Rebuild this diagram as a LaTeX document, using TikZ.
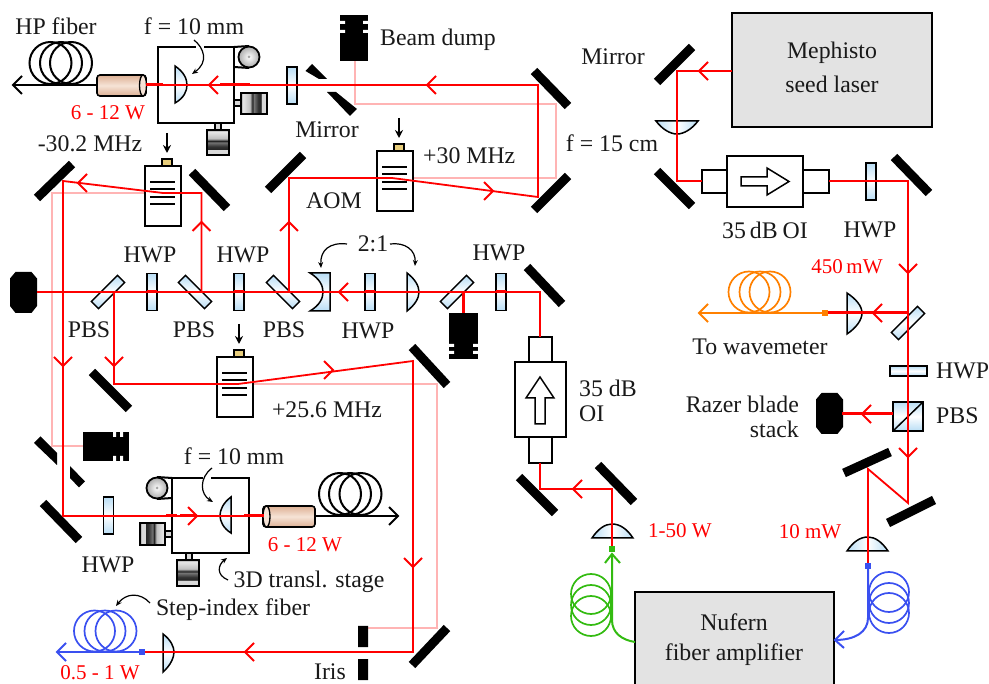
\documentclass[tikz,border=0pt]{standalone}
\usepackage{fontspec}
\setmainfont{Liberation Serif}
\usetikzlibrary{arrows.meta}
\definecolor{beamred}{HTML}{FF0000}
\definecolor{palered}{HTML}{FFB4B4}
\definecolor{glassb}{HTML}{B8DDF5}
\definecolor{boxgray}{HTML}{E3E3E3}
\definecolor{capgold}{HTML}{E8CE7C}
\definecolor{tanend}{HTML}{DDB094}
\definecolor{tanmid}{HTML}{F6E3D6}
\definecolor{greenf}{HTML}{33BB11}
\definecolor{bluef}{HTML}{3A50F0}
\definecolor{orangef}{HTML}{FF8000}
\pgfdeclarehorizontalshading{microshade}{100bp}{color(0bp)=(gray!70); color(25bp)=(gray!70); color(29bp)=(white!90!black); color(42bp)=(gray!50); color(47bp)=(black!85); color(50bp)=(black!55); color(58bp)=(black!80); color(63bp)=(black!85); color(65bp)=(white!85!black); color(72bp)=(white!85!black); color(75bp)=(gray); color(100bp)=(gray)}
\tikzset{
  lbl/.style={font=\fontsize{23.8}{27}\selectfont,inner sep=0pt,text=black!90},
  rlbl/.style={lbl,text=beamred,font=\fontsize{21}{25}\selectfont},
  beam/.style={draw=beamred,line width=1.8pt,line join=miter},
  beamthick/.style={draw=beamred,line width=3pt},
  paleb/.style={draw=palered,line width=1.7pt},
  mirrorsty/.style={draw=black,line width=9pt},
  outline/.style={draw=black,line width=1.6pt},
  plate/.style={draw=black,line width=1.5pt,minimum width=10pt,minimum height=37pt,inner sep=0pt,top color=glassb,bottom color=glassb,middle color=white},
  glassv/.style={draw=black,line width=1.5pt,top color=glassb,bottom color=glassb,middle color=white},
  glassh/.style={draw=black,line width=1.5pt,left color=glassb,right color=glassb,middle color=white},
  smallarc/.style={draw=black,line width=1.2pt,-{Stealth[length=6pt,width=5pt]}},
  tickarrow/.style={draw=black,line width=2pt,-{Stealth[length=8pt,width=8pt]}},
  barline/.style={draw=black,line width=2.4pt},
  fiberblk/.style={draw=black,line width=2pt},
  coilsty/.style={draw=#1,line width=1.7pt},
  fibercol/.style={draw=#1,line width=2pt},
  microbody/.style={draw=black,line width=1.8pt,shading=microshade,shading angle=#1},
  micropin/.style={draw=black,line width=1.2pt,fill=gray!30},
}
\newcommand{\mirrorbar}[4]{\draw[mirrorsty] (#1,#2) -- (#3,#4);}
\newcommand{\headL}[3][beam]{\draw[#1] (#2+9,#3-9) -- (#2,#3) -- (#2+9,#3+9);}
\newcommand{\headR}[3][beam]{\draw[#1] (#2-9,#3-9) -- (#2,#3) -- (#2-9,#3+9);}
\newcommand{\headU}[3][beam]{\draw[#1] (#2-9,#3+9) -- (#2,#3) -- (#2+9,#3+9);}
\newcommand{\headD}[3][beam]{\draw[#1] (#2-9,#3-9) -- (#2,#3) -- (#2+9,#3-9);}
\newcommand{\aomcell}[2]{%
  \draw[tickarrow] (#1+22,#2-33) -- (#1+22,#2-13);
  \draw[draw=black,line width=1.4pt,fill=capgold] (#1+17,#2-7) rectangle (#1+27,#2);
  \draw[outline,fill=white] (#1,#2) rectangle (#1+36,#2+60);
  \foreach \dy in {16,23,31,38}{\draw[barline] (#1+5,#2+\dy) -- (#1+30,#2+\dy);}
}
\newcommand{\knobcell}[2]{%
  \fill[white] (#1,#2) circle (11);
  \shade[inner color=white,outer color=gray!65] (#1,#2) circle (10.5);
  \draw[black,line width=1.8pt] (#1,#2) circle (10.5);
  \fill[gray!70] (#1,#2) circle (1.5);
}
\newcommand{\stackblk}[2]{%
  \fill[black] (#1+5.5,#2) -- (#1+21.5,#2) -- (#1+27,#2+6.5) -- (#1+27,#2+34) -- (#1+21.5,#2+41) -- (#1+5.5,#2+41) -- (#1,#2+34) -- (#1,#2+6.5) -- cycle;
}
\begin{document}
\begin{tikzpicture}[x=1pt,y=-1pt]
\useasboundingbox (0,0) rectangle (989,684);
% pale residual beams
\draw[paleb] (355,61) -- (355,104) -- (556,104) -- (556,178) -- (412,178);
\draw[paleb] (145,193) -- (52,193) -- (52,446) -- (83,446);
\draw[paleb] (253,384) -- (437,384) -- (437,628) -- (368,628);
% mirrors
\mirrorbar{37}{198}{72}{164}
\mirrorbar{192}{172}{227}{208}
\mirrorbar{268}{190}{303}{155}
\mirrorbar{534}{71}{568}{106}
\mirrorbar{534}{210}{568}{176}
\mirrorbar{92}{372}{129}{409}
\mirrorbar{412}{347}{447}{385}
\mirrorbar{527}{267}{562}{304}
\mirrorbar{43}{503}{79}{540}
\mirrorbar{519}{477}{555}{513}
\mirrorbar{598}{465}{634}{502}
\mirrorbar{412}{665}{447}{628}
\mirrorbar{657}{82}{692}{47}
\mirrorbar{657}{171}{692}{206}
\mirrorbar{894}{157}{929}{193}
\mirrorbar{844}{473}{890}{452}
\mirrorbar{888}{523}{934}{500}
% pick-off mirrors
\fill[black] (305.5,71) -- (312,64) -- (327,79) -- (319,79) -- cycle;
\fill[black] (327,92) -- (336,92) -- (357,109) -- (350,116) -- cycle;
\fill[black] (34,443) -- (40.5,436.5) -- (57,453) -- (57,465) -- cycle;
\fill[black] (70,466) -- (85,481.5) -- (79,487.5) -- (70,478) -- cycle;
% dumps
\fill[black] (340,15) rectangle (368,61);
\fill[white] (340,21) rectangle (345,24) (363,21) rectangle (368,24) (340,30) rectangle (345,33) (363,30) rectangle (368,33);
\fill[black] (449,313) rectangle (478,359);
\fill[white] (449,344) rectangle (454,347) (473,344) rectangle (478,347) (449,351) rectangle (454,354) (473,351) rectangle (478,354);
\fill[black] (83,432) rectangle (129,461);
\fill[white] (113,432) rectangle (116,437) (120,432) rectangle (123,437) (113,456) rectangle (116,461) (120,456) rectangle (123,461);
\stackblk{10}{272}
\stackblk{816}{393}
% stages
\draw[outline,fill=white] (158,47) rectangle (234,123);
\draw[white,line width=3pt] (196,47) -- (204,47);
\draw[black,line width=2pt] (234,47) -- (249,46) (234,67) -- (249,68);
\knobcell{249}{57}
\draw[micropin] (234,100) rectangle (241,106);
\draw[microbody=0] (241,93) rectangle (267,114);
\draw[micropin] (215,123) rectangle (221,130);
\draw[microbody=270] (207,130) rectangle (229,155);
\draw[outline,fill=white] (172,478) rectangle (249,553);
\draw[white,line width=3pt] (203,478) -- (211,478);
\draw[black,line width=2pt] (172,478) -- (157,477) (172,498) -- (157,499);
\knobcell{157}{488}
\draw[micropin] (165,531) rectangle (172,537);
\draw[microbody=180] (140,523) rectangle (165,545);
\draw[micropin] (186,553) rectangle (192,560);
\draw[microbody=270] (177,560) rectangle (199,586);
% AOMs
\aomcell{145}{166}
\aomcell{377}{151}
\aomcell{217}{357}
% glass: plates
\node[plate] (hwpA) at (292,85.5) {};
\node[plate] (hwpB) at (152,292) {};
\node[plate] (hwpC) at (239,292) {};
\node[plate] (hwpD) at (370,292) {};
\node[plate] (hwpE) at (501,292) {};
\node[plate] (hwpF) at (108.5,515.5) {};
\node[plate] (hwpG) at (871,181.5) {};
\node[plate,rotate=90] (hwpH) at (908.5,371) {};
\node[plate,rotate=-45] (pbsA) at (108,292) {};
\node[plate,rotate=45] (pbsB) at (195,292) {};
\node[plate,rotate=45] (pbsC) at (283,292) {};
\node[plate,rotate=-45] (pbsD) at (457,292) {};
\node[plate,rotate=-45] (pbsE) at (908,323) {};
% lenses
\draw[glassv] (175,66) .. controls (184,72) and (187,79) .. (187,85) .. controls (187,91) and (184,98) .. (175,103) -- cycle;
\draw[glassv] (231,497) .. controls (223,503) and (220,510) .. (220,515.5) .. controls (220,521) and (223,528) .. (231,533) -- cycle;
\draw[glassv] (407,273) .. controls (415,279) and (419,286) .. (419,292) .. controls (419,298) and (415,305) .. (407,311) -- cycle;
\draw[glassv] (163,634) .. controls (171,640) and (174,647) .. (174,652) .. controls (174,657) and (171,665) .. (163,672) -- cycle;
\draw[glassv] (847,293) .. controls (856,299) and (862,306) .. (862,313) .. controls (862,320) and (856,328) .. (847,334) -- cycle;
\draw[glassv] (310,273) -- (330,273) -- (330,311) -- (310,311) .. controls (320,305) and (323,298) .. (323,292) .. controls (323,286) and (320,279) .. (310,273) -- cycle;
\draw[glassh] (592,538) .. controls (598,529) and (605,524) .. (612,524) .. controls (620,524) and (627,529) .. (633,538) -- cycle;
\draw[glassh] (847,551) .. controls (853,542) and (860,537) .. (868,537) .. controls (875,537) and (882,542) .. (888,551) -- cycle;
\draw[glassh] (656,121) .. controls (662,129) and (670,134) .. (677,134) .. controls (684,134) and (692,129) .. (698,121) -- cycle;
% PBS cube
\draw[glassv] (893,402) rectangle (923,431);
\draw[black,line width=1.5pt] (893,431) -- (923,402);
% isolators
\draw[outline,fill=white] (529,337) rectangle (552,363);
\draw[outline,fill=white] (529,437) rectangle (552,463);
\draw[outline,fill=white] (515,362) rectangle (566,437);
\draw[draw=black,line width=1.5pt,fill=white] (540,377) -- (554,398) -- (545,398) -- (545,424) -- (535,424) -- (535,398) -- (526,398) -- cycle;
\draw[outline,fill=white] (702,170) rectangle (727,193);
\draw[outline,fill=white] (803,170) rectangle (829,193);
\draw[outline,fill=white] (727,156) rectangle (803,207);
\draw[draw=black,line width=1.5pt,fill=white] (789,181.5) -- (767,195) -- (767,186) -- (741,186) -- (741,177) -- (767,177) -- (767,168) -- cycle;
% lasers
\draw[outline,fill=boxgray] (732,13) rectangle (932,127);
\draw[outline,fill=boxgray] (635,592) rectangle (834,692);
% red beams
\draw[beam] (146,85) -- (538,85) -- (538,197) -- (392,178) -- (289,178) -- (289,292);
\draw[beamthick] (143,85) -- (163,85) (220,85) -- (250,85);
\draw[beam] (37,292) -- (540,292) -- (540,337);
\draw[beam] (201.5,292) -- (201.5,193) -- (163,193) -- (63,181) -- (63,516) -- (264,516);
\draw[beamthick] (166,516) -- (177,516) (180,516) -- (197,516) (244,516) -- (258,516);
\draw[beam] (114,292) -- (114,384) -- (238,384) -- (413,361) -- (413,652) -- (142,652);
\draw[beamthick] (463,292) -- (463,313);
\draw[beam] (540,463) -- (540,489) -- (612,489) -- (612,549);
\draw[beam] (732,71) -- (677,71) -- (677,181) -- (702,181);
\draw[beam] (829,181) -- (908,181) -- (908,503) -- (868,469) -- (868,566);
\draw[beamthick] (908,313) -- (825,313);
\draw[beamthick] (893,414) -- (842,414);
\draw[beamthick] (147,292) -- (157,292) (234,292) -- (244,292) (365,292) -- (375,292) (496,292) -- (506,292);
% beam arrowheads
\headL{209}{85}
\headL{427}{85}
\headL{78}{183}
\headU{201.5}{222}
\headU{289}{222}
\headR{493}{191}
\headL{339}{292}
\headD{63}{366}
\headD{114}{366}
\headR{333}{370}
\headD{413}{567}
\headL{245}{652}
\headR{197}{516}
\headL{573}{489}
\headL{699}{71}
\headD{908}{273}
\headL{873}{313}
\headL{862}{414}
\headD{908}{457}
% collimators and fibers
\foreach \cx/\cy in {50.5/63,61/63,71/63,340/494,350/494,360.5/494}{\draw[coilsty=black,line width=2pt] (\cx,\cy) circle (21);}
\draw[fiberblk] (13,85) -- (97,85);
\draw[fiberblk] (22,76) -- (13,85) -- (22,94);
\draw[fiberblk] (315,516) -- (398,516);
\draw[fiberblk] (389,507) -- (398,516) -- (389,525);
\draw[draw=black,line width=1.6pt,top color=tanend,bottom color=tanend,middle color=tanmid,rounded corners=3pt] (97,75) rectangle (146,96);
\draw[draw=black,line width=1.3pt,fill=tanmid] (143,85.5) ellipse (3.5 and 10.5);
\draw[draw=black,line width=1.6pt,top color=tanend,bottom color=tanend,middle color=tanmid,rounded corners=3pt] (263,506) rectangle (315,527);
\draw[draw=black,line width=1.3pt,fill=tanmid] (266.5,516.5) ellipse (3.5 and 10.5);
\draw[beamthick] (146,85) -- (150,85) (258,516) -- (264,516);
% blue step-index fiber
\foreach \cx in {94.5,105,116}{\draw[coilsty=bluef] (\cx,631) circle (20.5);}
\draw[fibercol=bluef] (57,652) -- (142,652);
\draw[fibercol=bluef] (66,643) -- (57,652) -- (66,661);
\fill[bluef] (138.5,649) rectangle (144.5,655);
% orange wavemeter fiber
\foreach \cx in {749,760,770}{\draw[coilsty=orangef] (\cx,292) circle (20.5);}
\draw[fibercol=orangef] (699,313) -- (825,313);
\draw[fibercol=orangef] (708,304) -- (699,313) -- (708,322);
\fill[orangef] (822,310) rectangle (828,316);
% green amplifier output
\foreach \cy in {594,605,616}{\draw[coilsty=greenf] (591,\cy) circle (20);}
\draw[fibercol=greenf] (635,642) .. controls (622,640) and (612,633) .. (612,620) -- (612,554);
\draw[fibercol=greenf] (605,563) -- (612,554) -- (620,563);
\fill[greenf] (609,546) rectangle (615,552);
% blue amplifier input
\foreach \cy in {592,603,613}{\draw[coilsty=bluef] (889,\cy) circle (20);}
\draw[fibercol=bluef] (868,566) -- (868,618) .. controls (868,632) and (855,640) .. (835,640);
\draw[fibercol=bluef] (844,631) -- (835,640) -- (844,648);
\fill[bluef] (865,563) rectangle (871,569);
% curved callouts
\draw[smallarc] (194,40) .. controls (204,48) and (209,62) .. (192,74);
\draw[smallarc] (212,468) .. controls (199,478) and (200,494) .. (213,502);
\draw[smallarc] (228,580) .. controls (216,575) and (218,565) .. (227,558);
\draw[smallarc] (150,603) .. controls (140,592) and (126,593) .. (116,606);
\draw[smallarc] (347,244) .. controls (330,242) and (320,250) .. (321,268);
\draw[smallarc] (390,244) .. controls (405,242) and (416,250) .. (415,266);
% labels
\node[lbl] (tHP) at (56,26) {HP fiber};
\node[lbl] (tf1) at (194,26) {f = 10 mm};
\node[rlbl] (tp1) at (108,113) {6 - 12 W};
\node[lbl] (tm30) at (90,144) {-30.2 MHz};
\node[lbl,anchor=west] (tdump) at (380,40) {Beam dump};
\node[lbl] (tmir1) at (327,130) {Mirror};
\node[lbl] (taom) at (334,201) {AOM};
\node[lbl,anchor=west] (tp30) at (423,156) {+30 MHz};
\node[lbl] (tmir2) at (613,57) {Mirror};
\node[lbl] (tf15) at (612,143) {f = 15 cm};
\node[lbl] (tmeph) at (832,53) {Mephisto};
\node[lbl] (tseed) at (832,84) {seed laser};
\node[lbl] (toi1) at (765,230) {35\hspace{4pt}dB\hspace{5pt}OI};
\node[lbl] (thwp1) at (870,230) {HWP};
\node[lbl] (thwp2) at (150,255) {HWP};
\node[lbl] (thwp3) at (243,255) {HWP};
\node[lbl] (t21) at (373,244) {2:1};
\node[lbl] (thwp4) at (499,253) {HWP};
\node[lbl] (tpbs1) at (89,330) {PBS};
\node[lbl] (tpbs2) at (194,330) {PBS};
\node[lbl] (tpbs3) at (284,330) {PBS};
\node[lbl] (thwp5) at (368,331) {HWP};
\node[rlbl] (t450) at (847,267) {450\,mW};
\node[lbl] (twave) at (760,347) {To wavemeter};
\node[lbl,anchor=west] (thwp6) at (936,371) {HWP};
\node[lbl,anchor=west] (tpbs4) at (936,416) {PBS};
\node[lbl,anchor=east] (trz1) at (799,404) {Razer blade};
\node[lbl,anchor=east] (trz2) at (799,429) {stack};
\node[lbl,anchor=west] (t35a) at (579,388) {35 dB};
\node[lbl,anchor=west] (t35b) at (579,414) {OI};
\node[lbl] (tp256) at (327,410) {+25.6 MHz};
\node[lbl] (tf2) at (234,456) {f = 10 mm};
\node[rlbl] (tp2) at (305,545) {6 - 12 W};
\node[lbl] (thwp7) at (108,565) {HWP};
\node[lbl] (tstage) at (309,582) {3D transl. stage};
\node[lbl] (tstep) at (233,610) {Step-index fiber};
\node[rlbl] (tp3) at (100,673) {0.5 - 1 W};
\node[lbl] (tiris) at (330,672) {Iris};
\node[rlbl] (tp4) at (680,531) {1-50 W};
\node[rlbl] (tp5) at (810,532) {10 mW};
\node[lbl] (tnuf) at (734,622) {Nufern};
\node[lbl] (tamp) at (734,655) {fiber amplifier};
% iris
\fill[black] (358,626) rectangle (368,647) (358,659) rectangle (368,680);
\end{tikzpicture}
\end{document}
